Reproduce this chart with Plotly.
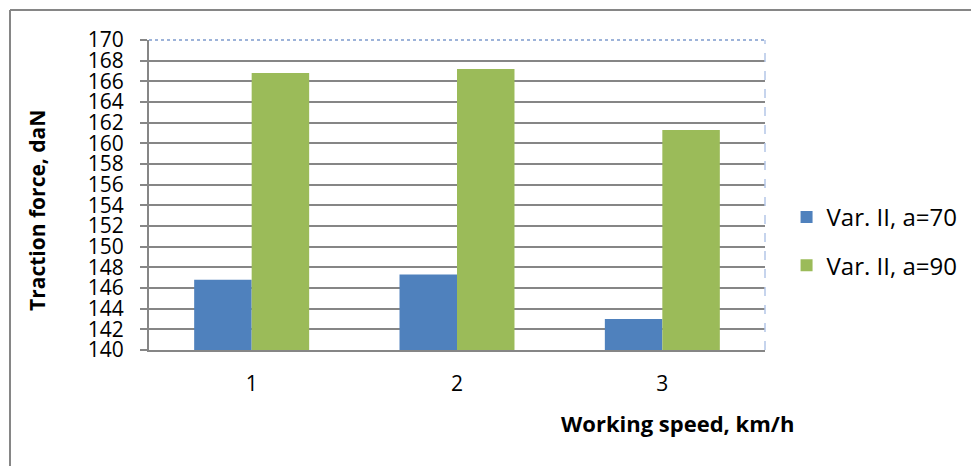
import plotly.graph_objects as go

categories = ["1", "2", "3"]
series_names = ["Var. II, a=70", "Var. II, a=90"]
values_a70 = [146.8, 147.3, 143.0]
values_a90 = [166.8, 167.2, 161.3]
colors = ["#4F81BD", "#9BBB59"]
y_ticks = list(range(140, 171, 2))

FONT = "Open Sans"

fig = go.Figure()
for name, vals, col, grp in zip(series_names, [values_a70, values_a90], colors, ["g1", "g2"]):
    fig.add_trace(go.Bar(x=categories, y=vals, name=name, marker=dict(color=col, line=dict(width=0)),
                         legendgroup=grp))

fig.update_layout(
    width=971, height=466,
    margin=dict(l=149, r=206, t=40, b=116, autoexpand=False),
    paper_bgcolor="white", plot_bgcolor="white",
    barmode="group", bargap=0.44, bargroupgap=0,
    font=dict(family=FONT, size=21, color="black"),
    showlegend=True,
    legend=dict(x=1.035, xanchor="left", y=0.35, yanchor="middle",
                font=dict(family=FONT, size=24, color="black"),
                tracegroupgap=14, itemwidth=30, bgcolor="rgba(0,0,0,0)"),
    xaxis=dict(type="category", showgrid=False, showline=True, linecolor="#868686", linewidth=2,
               ticks="", ticklabelstandoff=14, tickfont=dict(size=21)),
    yaxis=dict(range=[140, 170], tickvals=y_ticks, showgrid=True, gridcolor="#868686", gridwidth=2,
               showline=True, linecolor="#868686", linewidth=2, ticks="outside", ticklen=7,
               tickcolor="#868686", tickwidth=2, ticklabelstandoff=12, tickfont=dict(size=21),
               zeroline=False),
)

# axis titles
fig.add_annotation(text="<b>Traction force, daN</b>", xref="paper", yref="paper",
                   x=(37 - 149) / 616, y=(350 - 211) / 310, textangle=-90, showarrow=False,
                   font=dict(family=FONT, size=21, color="black"), xanchor="center", yanchor="middle")
fig.add_annotation(text="<b>Working speed, km/h</b>", xref="paper", yref="paper",
                   x=(677 - 149) / 616, y=-(423 - 350) / 310, showarrow=False,
                   font=dict(family=FONT, size=22, color="black"), xanchor="center", yanchor="middle")

# outer chart frame (top and left edges) and plot-area selection border
fig.add_shape(type="line", xref="paper", yref="paper", x0=-(149 - 10) / 616, x1=(971 - 149) / 616,
              y0=(350 - 10) / 310, y1=(350 - 10) / 310, line=dict(color="#868686", width=2))
fig.add_shape(type="line", xref="paper", yref="paper", x0=-(149 - 10) / 616, x1=-(149 - 10) / 616,
              y0=(350 - 10) / 310, y1=-(466 - 350) / 310, line=dict(color="#868686", width=2))
fig.add_shape(type="line", xref="paper", yref="paper", x0=0, x1=1, y0=1, y1=1,
              line=dict(color="#9DB3D9", width=2, dash="dot"))
fig.add_shape(type="line", xref="paper", yref="paper", x0=1, x1=1, y0=0, y1=1,
              line=dict(color="#B4C6E7", width=1.5, dash="dash"))

fig.write_html("out.html", config={"displayModeBar": False},
               post_script="document.body.style.margin='0';document.body.style.overflow='hidden';")
